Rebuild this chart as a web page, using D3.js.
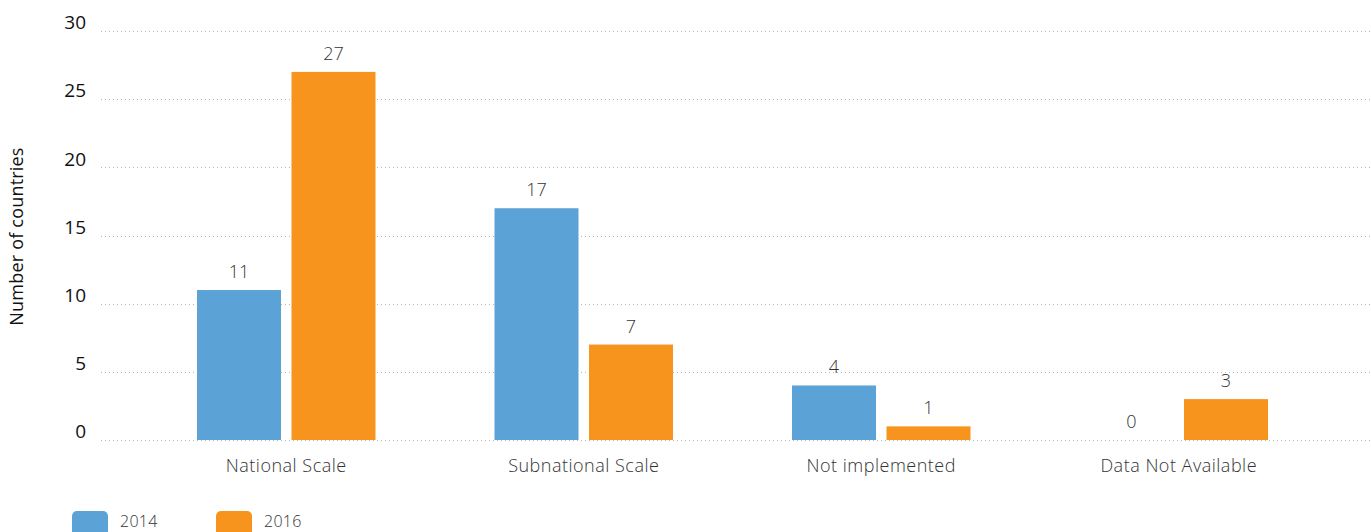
<!DOCTYPE html>
<html>
<head>
<meta charset="utf-8">
<script src="https://cdn.jsdelivr.net/npm/d3@7"></script>
<style>
  html, body { margin: 0; padding: 0; background: #fff; }
  svg { display: block; font-family: "Open Sans", "Lato", sans-serif; }
</style>
</head>
<body>
<svg id="chart" width="1371" height="532"></svg>
<script>
// Categories, series and tick labels
const categories = ["National Scale", "Subnational Scale", "Not implemented", "Data Not Available"];
const years = ["2014", "2016"];
const values2014 = [11, 17, 4, 0];
const values2016 = [27, 7, 1, 3];
const yTicks = [0, 5, 10, 15, 20, 25, 30];
const colors = { "2014": "#5BA3D6", "2016": "#F7941E" };

const svg = d3.select("#chart");
const gridLeft = 101, gridRight = 1370;
const plotTop = 31, plotBottom = 440;

const y = d3.scaleLinear().domain([0, 30]).range([plotBottom, plotTop]);

const x0 = d3.scaleBand()
  .domain(categories)
  .range([137.5, 1327.5])
  .paddingInner(0.4)
  .paddingOuter(0.2);

const x1 = d3.scaleBand()
  .domain(years)
  .range([0, x0.bandwidth()])
  .paddingInner(0.111);

// Dotted horizontal gridlines
svg.append("g")
  .selectAll("line")
  .data(yTicks)
  .join("line")
  .attr("x1", gridLeft)
  .attr("x2", gridRight)
  .attr("y1", d => Math.round(y(d)) + 0.5)
  .attr("y2", d => Math.round(y(d)) + 0.5)
  .attr("stroke", "#b5b5b5")
  .attr("stroke-width", 1)
  .attr("stroke-dasharray", "1,3");

// Y axis tick labels
const yAxis = d3.axisLeft(y).tickValues(yTicks).tickSize(0).tickPadding(0);
const yg = svg.append("g")
  .attr("transform", `translate(86,0)`)
  .call(yAxis);
yg.select(".domain").remove();
yg.selectAll("text")
  .attr("font-size", 19)
  .attr("fill", "#111")
  .attr("dy", "-0.12em")
  .style("font-family", "'Open Sans', sans-serif");

// Y axis title
svg.append("text")
  .attr("transform", `translate(23,${(plotTop + plotBottom) / 2 + 1}) rotate(-90)`)
  .attr("text-anchor", "middle")
  .attr("font-size", 18)
  .attr("letter-spacing", 0.2)
  .attr("fill", "#111")
  .text("Number of countries");

// Bars
const rows = categories.map((c, i) => ({
  category: c,
  series: [
    { year: "2014", value: values2014[i] },
    { year: "2016", value: values2016[i] }
  ]
}));

const groups = svg.append("g")
  .selectAll("g")
  .data(rows)
  .join("g")
  .attr("transform", d => `translate(${x0(d.category)},0)`);

groups.selectAll("rect")
  .data(d => d.series)
  .join("rect")
  .attr("x", d => x1(d.year))
  .attr("width", x1.bandwidth())
  .attr("y", d => y(d.value))
  .attr("height", d => y(0) - y(d.value))
  .attr("fill", d => colors[d.year]);

// Value labels above bars
groups.selectAll("text")
  .data(d => d.series)
  .join("text")
  .attr("x", d => x1(d.year) + x1.bandwidth() / 2)
  .attr("y", d => y(d.value) - 12)
  .attr("text-anchor", "middle")
  .attr("font-size", 18)
  .attr("font-weight", 300)
  .attr("fill", "#333")
  .text(d => d.value);

// Category labels
const xAxis = d3.axisBottom(x0).tickSize(0).tickPadding(0);
const xg = svg.append("g")
  .attr("transform", `translate(0,${plotBottom + 19})`)
  .call(xAxis);
xg.select(".domain").remove();
xg.selectAll("text")
  .attr("font-size", 18)
  .attr("letter-spacing", 0.5)
  .attr("fill", "#333")
  .attr("dy", "0.71em")
  .style("font-family", "'Open Sans', sans-serif")
  .style("font-weight", 300);

// Legend
const legend = svg.append("g");
const legendX = [72, 216];
years.forEach((yr, i) => {
  legend.append("rect")
    .attr("x", legendX[i])
    .attr("y", 511)
    .attr("width", 36)
    .attr("height", 30)
    .attr("rx", 5)
    .attr("fill", colors[yr]);
  legend.append("text")
    .attr("x", legendX[i] + 48)
    .attr("y", 527)
    .attr("font-size", 16)
    .attr("font-weight", 300)
    .attr("letter-spacing", 0.3)
    .attr("fill", "#333")
    .text(yr);
});
</script>
</body>
</html>
